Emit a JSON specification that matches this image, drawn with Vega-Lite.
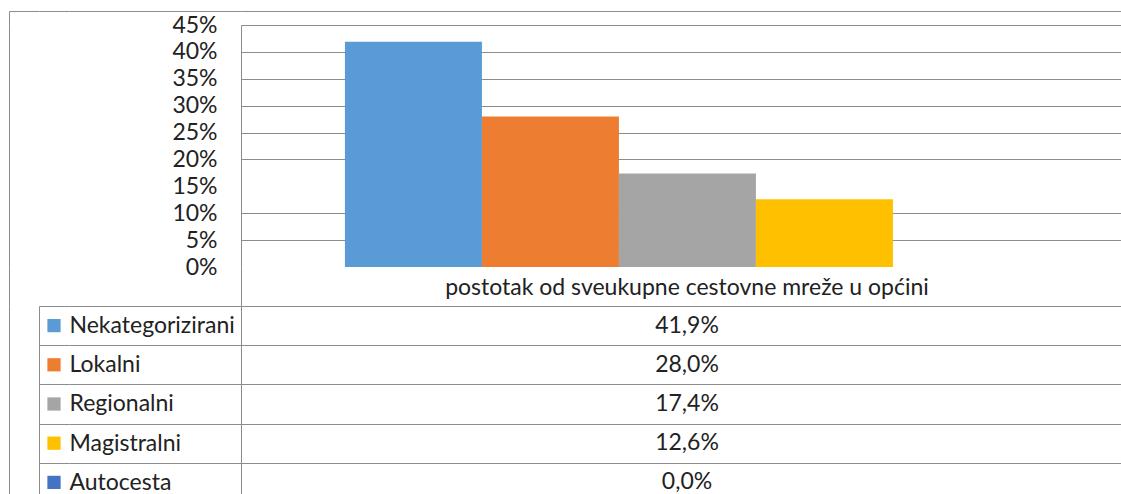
{
  "$schema": "https://vega.github.io/schema/vega-lite/v6.json",
  "padding": {"left": 8, "top": 10, "right": 0, "bottom": 0},
  "background": "white",
  "columns": 4,
  "spacing": 0,
  "bounds": "flush",
  "datasets": {
    "roads": [
      {"name": "Nekategorizirani", "value": 0.419},
      {"name": "Lokalni", "value": 0.280},
      {"name": "Regionalni", "value": 0.174},
      {"name": "Magistralni", "value": 0.126},
      {"name": "Autocesta", "value": 0.0}
    ],
    "one": [{"k": "a"}],
    "header": [{"cat": "postotak od sveukupne cestovne mreže u općini"}]
  },
  "concat": [
    {
      "width": 30, "height": 242,
      "data": {"name": "one"},
      "mark": {"type": "text", "text": ""},
      "encoding": {
        "x": {"field": "k", "type": "nominal", "title": null, "scale": {"type": "point", "padding": 0, "align": 0},
              "axis": {"orient": "top", "offset": 14, "labels": false, "ticks": true, "tickSize": -14, "domain": true}},
        "y": {"field": "k", "type": "nominal", "title": null, "axis": {"labels": false, "ticks": false, "domain": true}}
      }
    },
    {
      "width": 30, "height": 242,
      "data": {"name": "one"},
      "mark": {"type": "text", "text": ""},
      "encoding": {
        "x": {"field": "k", "type": "nominal", "title": null, "axis": {"orient": "top", "offset": 14, "labels": false, "ticks": false, "domain": true}}
      }
    },
    {
      "width": 172, "height": 242,
      "data": {"name": "one"},
      "mark": {"type": "text", "text": ""},
      "encoding": {
        "x": {"field": "k", "type": "nominal", "title": null, "axis": {"orient": "top", "offset": 14, "labels": false, "ticks": false, "domain": true}}
      }
    },
    {
      "width": 880, "height": 242,
      "data": {"name": "roads"},
      "mark": {"type": "bar"},
      "encoding": {
        "x": {"field": "name", "type": "nominal", "title": null,
              "scale": {"domain": ["Nekategorizirani", "Lokalni", "Regionalni", "Magistralni", "Autocesta"], "paddingInner": 0, "paddingOuter": 0.7117, "align": 0.533},
              "axis": {"orient": "top", "offset": 14, "labels": false, "ticks": false, "domain": true}},
        "y": {"field": "value", "type": "quantitative", "title": null,
              "scale": {"domain": [0, 0.45], "nice": false},
              "axis": {"values": [0, 0.05, 0.1, 0.15, 0.2, 0.25, 0.3, 0.35, 0.4, 0.45], "format": ".0%",
                       "grid": true, "ticks": false, "domain": true, "labelPadding": 24, "labelFontSize": 23,
                       "gridColor": {"condition": {"test": "datum.value < 0.01 || (datum.value > 0.14 && datum.value < 0.16)", "value": "transparent"}, "value": "#8c8c8c"}}},
        "color": {"field": "name", "type": "nominal", "legend": null,
                  "scale": {"domain": ["Nekategorizirani", "Lokalni", "Regionalni", "Magistralni", "Autocesta"],
                            "range": ["#5B9BD5", "#ED7D31", "#A5A5A5", "#FFC000", "#4472C4"]}}
      }
    },
    {
      "width": 30, "height": 39,
      "data": {"name": "one"},
      "mark": {"type": "text", "text": ""},
      "encoding": {
        "y": {"field": "k", "type": "nominal", "title": null, "axis": {"labels": false, "ticks": false, "domain": true}}
      }
    },
    {
      "width": 30, "height": 39,
      "data": {"name": "one"},
      "mark": {"type": "text", "text": ""},
      "encoding": {}
    },
    {
      "width": 172, "height": 39,
      "data": {"name": "one"},
      "mark": {"type": "text", "text": ""},
      "encoding": {}
    },
    {
      "width": 880, "height": 39,
      "data": {"name": "header"},
      "mark": {"type": "text", "dx": 6, "dy": 1, "fontSize": 23, "color": "#222"},
      "encoding": {
        "text": {"field": "cat", "type": "nominal"},
        "y": {"field": "cat", "type": "nominal", "title": null, "axis": {"labels": false, "ticks": false, "domain": true}}
      }
    },
    {
      "width": 30, "height": 188,
      "data": {"name": "one"},
      "mark": {"type": "text", "text": ""},
      "encoding": {
        "y": {"field": "k", "type": "nominal", "title": null, "axis": {"labels": false, "ticks": false, "domain": true}}
      }
    },
    {
      "width": 30, "height": 188,
      "data": {"name": "roads"},
      "mark": {"type": "square", "size": 175, "opacity": 1},
      "encoding": {
        "y": {"field": "name", "type": "nominal", "title": null,
              "scale": {"type": "point", "domain": ["Nekategorizirani", "Lokalni", "Regionalni", "Magistralni", "Autocesta"], "padding": 0.398, "align": 0.628},
              "axis": {"labels": false, "ticks": false, "domain": true, "grid": true, "tickOffset": -19.6}},
        "color": {"field": "name", "type": "nominal", "legend": null,
                  "scale": {"domain": ["Nekategorizirani", "Lokalni", "Regionalni", "Magistralni", "Autocesta"],
                            "range": ["#5B9BD5", "#ED7D31", "#A5A5A5", "#FFC000", "#4472C4"]}}
      }
    },
    {
      "width": 172, "height": 188,
      "data": {"name": "roads"},
      "mark": {"type": "text", "text": ""},
      "encoding": {
        "y": {"field": "name", "type": "nominal", "title": null,
              "scale": {"type": "point", "domain": ["Nekategorizirani", "Lokalni", "Regionalni", "Magistralni", "Autocesta"], "padding": 0.398, "align": 0.628},
              "axis": {"labels": true, "ticks": false, "domain": false, "grid": true, "tickOffset": -19.6, "labelOffset": 19.6,
                       "labelAlign": "left", "labelBaseline": "middle", "labelPadding": 0, "labelFontSize": 23, "labelLimit": 0}}
      }
    },
    {
      "width": 880, "height": 188,
      "data": {"name": "roads"},
      "mark": {"type": "text", "dx": 6, "fontSize": 23, "color": "#222"},
      "encoding": {
        "y": {"field": "name", "type": "nominal", "title": null,
              "scale": {"type": "point", "domain": ["Nekategorizirani", "Lokalni", "Regionalni", "Magistralni", "Autocesta"], "padding": 0.398, "align": 0.628},
              "axis": {"labels": false, "ticks": false, "domain": true, "grid": true, "tickOffset": -19.6}},
        "text": {"field": "value", "type": "quantitative", "format": ".1%"}
      }
    }
  ],
  "config": {
    "font": "Lato",
    "view": {"stroke": null},
    "locale": {"number": {"decimal": ",", "thousands": ".", "grouping": [3], "currency": ["", " kn"]}},
    "axis": {"domainColor": "#8c8c8c", "gridColor": "#8c8c8c", "tickColor": "#8c8c8c", "labelColor": "#222", "labelFont": "Lato", "domainWidth": 1, "gridWidth": 1, "tickWidth": 1}
  }
}
